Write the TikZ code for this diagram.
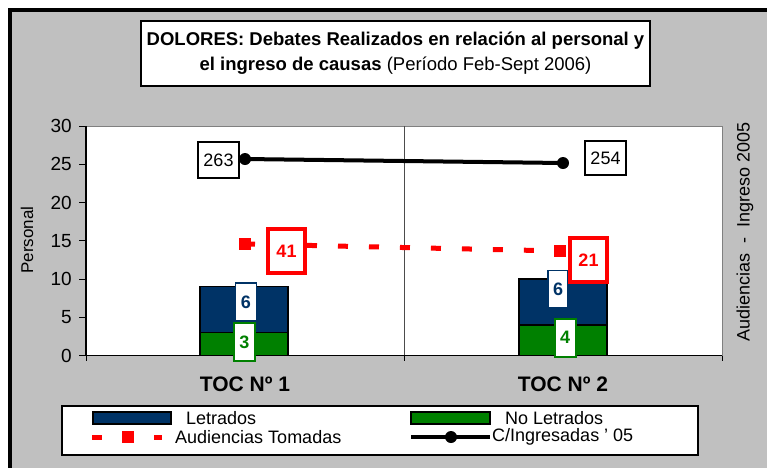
\documentclass[tikz,border=0pt]{standalone}
\usepackage{fontspec}
\setmainfont{Liberation Sans}
\usetikzlibrary{calc}
\definecolor{letblue}{HTML}{003366}
\definecolor{noletgreen}{HTML}{008000}
\definecolor{chartgray}{HTML}{C0C0C0}
\definecolor{audred}{HTML}{FF0000}
\tikzset{
  lbl/.style={draw,fill=white,inner sep=0pt,font=\fontsize{18}{20}\selectfont\bfseries},
  numlbl/.style={draw,fill=white,inner sep=0pt,line width=2,font=\fontsize{18}{20}\selectfont},
  ticklbl/.style={anchor=east,inner sep=0pt,font=\fontsize{19}{21}\selectfont},
  catlbl/.style={font=\fontsize{21}{23}\selectfont\bfseries},
  leglbl/.style={anchor=west,inner sep=0pt,font=\fontsize{18}{20}\selectfont},
  audline/.style={audred,line width=5,dash pattern=on 10pt off 21pt},
  ingline/.style={black,line width=4},
  audmark/.style={fill=audred,inner sep=0pt,minimum size=12},
  ingmark/.style={circle,fill=black,inner sep=0pt,minimum size=12}
}
\begin{document}
\begin{tikzpicture}[x=1pt,y=-1pt]
			%%%%% START %%%%%
			\def\yz{355.5}
			\def\du{7.65}
			\def\xl{86}
			\def\xm{404}
			\def\xr{722}
			\def\yt{126}
			\def\bw{1.5}

			\useasboundingbox (0,0) rectangle (767,467);
			\begin{scope}
			\clip (0,0) rectangle (767,467);
			\draw[line width=4,fill=chartgray] (10,10) rectangle (790,490);
			\end{scope}

			\node[draw,fill=white,line width=2,minimum width=509,minimum height=65,align=center,
			      font=\fontsize{18.5}{25}\selectfont] (title) at (395.5,53.5)
			  {\textbf{DOLORES: Debates Realizados en relación al personal y}\\
			   \textbf{el ingreso de causas} (Período Feb-Sept 2006)};

			% plot area
			\fill[white] (\xl,\yt) rectangle (\xr,\yz);
			\draw[gray,line width=1] (\xl,\yt) -- (\xr,\yt) -- (\xr,\yz);
			\draw[gray!60!black,line width=1] (\xm,\yt) -- (\xm,361);
			\draw[line width=1.2] (\xl,\yt) -- (\xl,\yz) -- (\xr,\yz);
			\foreach \v in {0,5,...,30}{
			  \draw[line width=1] (79,{\yz-\v*\du}) -- (\xl,{\yz-\v*\du});
			  \node[ticklbl] (t\v) at (72,{\yz-\v*\du}) {\v};
			}
			\foreach \x in {\xl,\xm,\xr} \draw[line width=1] (\x,\yz) -- (\x,361);

			\node[rotate=90,font=\fontsize{17}{19}\selectfont] (ylab) at (27,240) {Personal};
			\node[rotate=90,font=\fontsize{18}{20}\selectfont] (rlab) at (745,232) {Audiencias \ - \ Ingreso 2005};

			% bars
			\draw[line width=\bw,fill=noletgreen] (200,\yz) rectangle (288,{\yz-3*\du});
			\draw[line width=\bw,fill=letblue] (200,{\yz-3*\du}) rectangle (288,{\yz-9*\du});
			\draw[line width=\bw,fill=noletgreen] (519,\yz) rectangle (607,{\yz-4*\du});
			\draw[line width=\bw,fill=letblue] (519,{\yz-4*\du}) rectangle (607,{\yz-10*\du});

			% lines
			\coordinate (c1) at (245,159);
			\coordinate (c2) at (563,163);
			\coordinate (a1) at (245,244);
			\coordinate (a2) at (560,251);
			\draw[ingline] (c1) -- (c2);
			\node[ingmark] (m1) at (c1) {};
			\node[ingmark] (m2) at (c2) {};
			\draw[audline] (a1) -- (a2);
			\node[audmark] (r1) at (a1) {};
			\node[audmark] (r2) at (a2) {};

			% data labels
			\node[lbl,draw=letblue,text=letblue,line width=1.5,minimum width=21,minimum height=38] (l61) at (246,302) {6};
			\node[lbl,draw=noletgreen,text=noletgreen,line width=2,minimum width=21,minimum height=38] (l31) at (244.5,342) {3};
			\node[lbl,draw=letblue,text=letblue,line width=1.5,minimum width=20,minimum height=37] (l62) at (558,289) {6};
			\node[lbl,draw=noletgreen,text=noletgreen,line width=2,minimum width=21,minimum height=38] (l42) at (565,337.5) {4};
			\node[lbl,draw=audred,text=audred,line width=4,minimum width=37,minimum height=44] (l41) at (286.5,251) {41};
			\node[lbl,draw=audred,text=audred,line width=4,minimum width=37,minimum height=44] (l21) at (588.5,260) {21};
			\node[numlbl,minimum width=41,minimum height=36] (l263) at (218.5,160) {263};
			\node[numlbl,minimum width=41,minimum height=34] (l254) at (605.5,158) {254};

			\node[catlbl] (toc1) at (245,384) {TOC Nº 1};
			\node[catlbl] (toc2) at (563,384) {TOC Nº 2};

			% legend
			\node[draw,fill=white,line width=2,minimum width=636,minimum height=49] (legend) at (380,430.5) {};
			\draw[line width=\bw,fill=letblue] (93,412) rectangle (171,424);
			\node[leglbl] (lg1) at (186,418) {Letrados};
			\draw[line width=\bw,fill=noletgreen] (411,412) rectangle (490,424);
			\node[leglbl] (lg2) at (505,418) {No Letrados};
			\coordinate (ra) at (92,437);
			\coordinate (rb) at (162,437);
			\draw[audline] (ra) -- (rb);
			\node[audmark] (lr) at (128,437) {};
			\node[leglbl] (lg3) at (175,437) {Audiencias Tomadas};
			\coordinate (ka) at (411,437);
			\coordinate (kb) at (490,437);
			\draw[ingline] (ka) -- (kb);
			\node[ingmark] (lk) at (451,437) {};
			\node[leglbl] (lg4) at (492,437) {C/Ingresadas ' 05};
			%%%%% END %%%%%
\end{tikzpicture}
\end{document}
